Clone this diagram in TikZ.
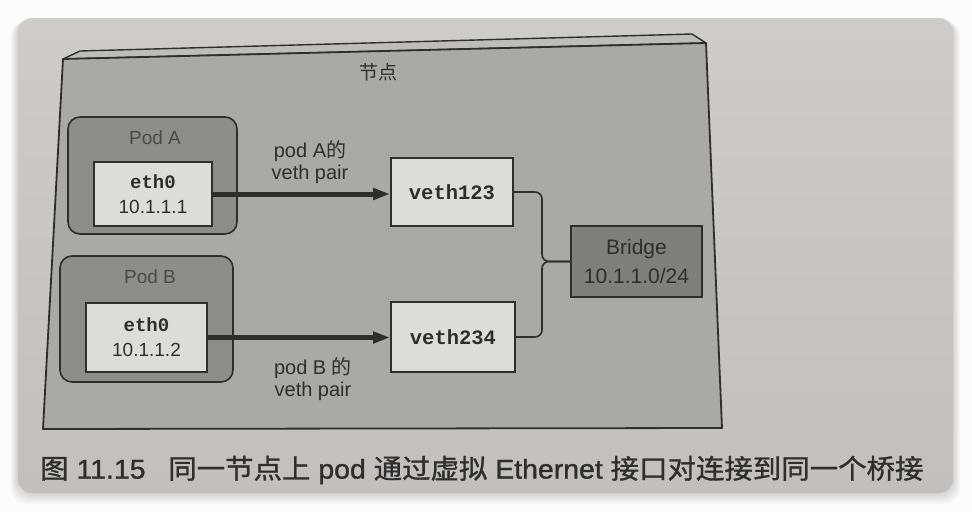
\documentclass[tikz,border=0pt]{standalone}
\usepackage{fontspec}
\setmainfont{Liberation Sans}
\setmonofont{Liberation Mono}
\newfontfamily\cjk{Noto Sans CJK SC}
\newfontfamily\capcjk[FakeBold=1.1]{Noto Sans CJK SC}
\newfontfamily\caplatin[FakeBold=1.1]{Liberation Sans}
\usetikzlibrary{arrows.meta}

\definecolor{sheet}{HTML}{FCFCFC}
\definecolor{papertop}{HTML}{CDCCCA}
\definecolor{paperbot}{HTML}{C1C0BE}
\definecolor{facegray}{HTML}{A9A9A7}
\definecolor{stripgray}{HTML}{BDBDBB}
\definecolor{podgray}{HTML}{8D8D8B}
\definecolor{boxlight}{HTML}{DCDCDA}
\definecolor{bridgegray}{HTML}{7F7F7D}
\definecolor{ink}{HTML}{2E2E2E}
\definecolor{softink}{HTML}{4A4A4A}

\begin{document}
\begin{tikzpicture}[x=1pt,y=-1pt,
  outline/.style={draw=ink, line width=1.6pt},
  podbox/.style={outline, fill=podgray, rounded corners=12pt, inner sep=0pt},
  ifacebox/.style={outline, fill=boxlight, inner sep=0pt, align=center,
    font=\fontsize{19}{25}\selectfont, text=ink},
  vethbox/.style={outline, fill=boxlight, inner sep=0pt,
    font=\fontsize{20.5}{24}\selectfont\ttfamily\bfseries, text=ink},
  bridgebox/.style={outline, fill=bridgegray, inner sep=0pt, align=center,
    font=\fontsize{21}{29}\selectfont, text=ink},
  podlabel/.style={font=\fontsize{19}{22}\selectfont, text=softink, inner sep=0pt},
  pairlabel/.style={font=\fontsize{20}{21.5}\selectfont, text=ink, align=center, inner sep=0pt},
  wire/.style={draw=ink, line width=5pt, -{Triangle[length=17pt,width=11pt]}},
  link/.style={draw=ink, line width=1.6pt, rounded corners=7pt},
]
\useasboundingbox (0,0) rectangle (972,512);
\fill[sheet] (0,0) rectangle (972,512);

% soft shadow under the photographed page
\foreach \i in {1,...,8}
  \fill[black, opacity=0.018, rounded corners=16pt]
    (18-0.9*\i, 18+0.4*\i) rectangle (953+0.9*\i, 493+1.4*\i);

% the page itself
\shade[rounded corners=14pt, top color=papertop, bottom color=paperbot]
  (18,18) rectangle (953,493);

% node slab: thin top face, then the front face
\filldraw[fill=stripgray, draw=ink, line width=1.4pt, line join=round]
  (63,59) -- (80,51) -- (692,34) -- (706,43) -- cycle;
\filldraw[fill=facegray, draw=ink, line width=1.8pt, line join=round]
  (63,59) -- (706,43) -- (722,428) -- (43,429) -- cycle;
\node[font=\fontsize{19}{22}\selectfont\cjk, text=ink] (nodetitle) at (378,72) {节点};

% pods
\node[podbox, minimum width=169pt, minimum height=117pt] (podA) at (152.5,175.5) {};
\node[podlabel] (podAlabel) at (155,138) {Pod A};
\node[ifacebox, minimum width=118pt, minimum height=64pt] (ethA) at (153,194)
  {{\ttfamily\bfseries eth0}\\10.1.1.1};

\node[podbox, minimum width=173pt, minimum height=126pt] (podB) at (146.5,319) {};
\node[podlabel] (podBlabel) at (150,277) {Pod B};
\node[ifacebox, minimum width=121pt, minimum height=69pt] (ethB) at (146.5,337.5)
  {{\ttfamily\bfseries eth0}\\10.1.1.2};

% host-side veth ends and the bridge
\node[vethbox, minimum width=122pt, minimum height=68pt] (vethA) at (452,192) {veth123};
\node[vethbox, minimum width=124pt, minimum height=70pt] (vethB) at (453,337) {veth234};
\node[bridgebox, minimum width=131pt, minimum height=71pt] (bridge) at (636.5,261.5)
  {Bridge\\10.1.1.0/24};

% veth pairs
\draw[wire] (ethA.east) -- (ethA.east -| vethA.west);
\draw[wire] (ethB.east) -- (ethB.east -| vethB.west);
\node[pairlabel] (pairA) at (310,162) {pod A{\cjk 的}\\veth pair};
\node[pairlabel] (pairB) at (313,379) {pod B {\cjk 的}\\veth pair};

% both veth ends joined onto the bridge
\coordinate (jn) at (542,261.5);
\draw[link] (vethA.east) -| (jn) -- (bridge.west);
\draw[link] (vethB.east) -| (jn) -- (bridge.west);

% caption
\node[font=\fontsize{27}{30}\selectfont\caplatin, text=ink, anchor=west, inner sep=0pt] (caption)
  at (40,470)
  {\scalebox{1.053}[1]{{\capcjk 图} 11.15\hspace{0.8em}{\capcjk 同一节点上} pod {\capcjk 通过虚拟} Ethernet {\capcjk 接口对连接到同一个桥接}}};
\end{tikzpicture}
\end{document}
